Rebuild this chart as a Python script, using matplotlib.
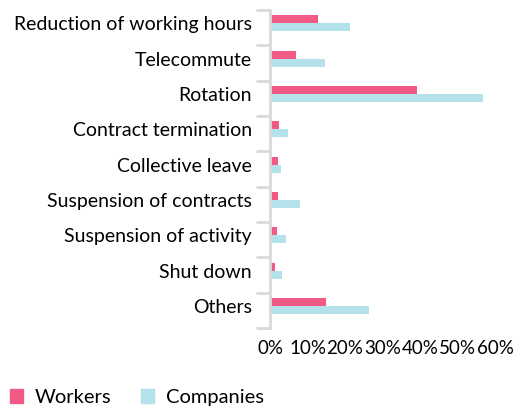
import numpy as np
import matplotlib
matplotlib.use("Agg")
import matplotlib.pyplot as plt
from matplotlib.ticker import FixedLocator, PercentFormatter
from matplotlib.patches import Patch

plt.rcParams['font.family'] = ['Lato', 'DejaVu Sans']

categories = ["Reduction of working hours", "Telecommute", "Rotation",
              "Contract termination", "Collective leave", "Suspension of contracts",
              "Suspension of activity", "Shut down", "Others"]
workers = [12.7, 6.9, 39.1, 2.4, 2.0, 2.0, 1.8, 1.4, 14.8]
companies = [21.2, 14.7, 56.7, 4.9, 2.8, 8.0, 4.2, 3.1, 26.3]

pink = "#f05a85"
blue = "#b3e2ea"
grey = "#d9d9d9"

fig = plt.figure(figsize=(5.22, 4.09), dpi=100)
ax = fig.add_axes([270/522, 1 - 328/409, 225/522, 318/409])

y = np.arange(len(categories))
h = 0.226
shift = -0.12  # groups sit a bit above the middle of each band
ax.barh(y - h/2 + shift, workers, height=h, color=pink)
ax.barh(y + h/2 + shift, companies, height=h, color=blue)

ax.set_xlim(0, 60)
ax.set_ylim(len(categories) - 0.5, -0.5)
ax.set_xticks(np.arange(0, 61, 10))
ax.xaxis.set_major_formatter(PercentFormatter(decimals=0))
ax.tick_params(axis='x', length=0, labelsize=13.5, pad=9)

ax.set_yticks(y + shift)
ax.set_yticklabels(categories)
ax.yaxis.set_minor_locator(FixedLocator(np.arange(-0.5, len(categories), 1)))
ax.tick_params(axis='y', which='major', length=0, labelsize=14, pad=13)
ax.tick_params(axis='y', which='minor', length=10, width=2, color=grey)

for s in ['top', 'right', 'bottom']:
    ax.spines[s].set_visible(False)
ax.spines['left'].set_color(grey)
ax.spines['left'].set_linewidth(2)

handles = [Patch(color=pink, label="Workers"), Patch(color=blue, label="Companies")]
fig.legend(handles=handles, loc='lower left', bbox_to_anchor=(10/522, 3/409), ncol=2,
           frameon=False, fontsize=14.5, handlelength=0.65, handleheight=0.65,
           handletextpad=0.6, columnspacing=1.45, borderpad=0, borderaxespad=0)

fig.savefig("out.png", dpi=100)
